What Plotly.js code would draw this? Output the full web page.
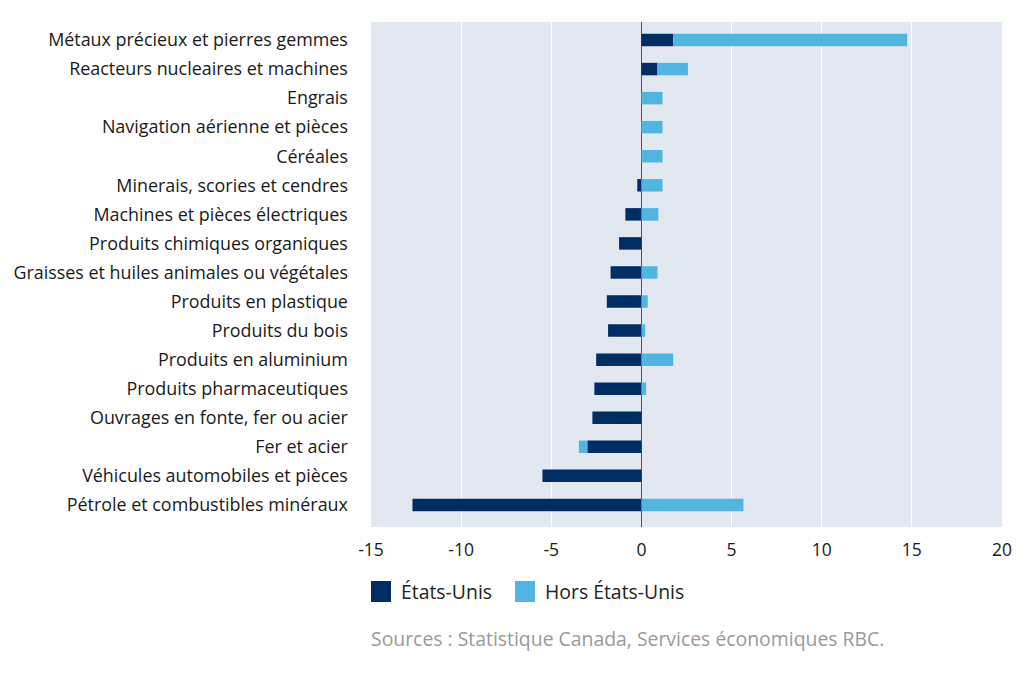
<!DOCTYPE html>
<html>
<head>
<meta charset="utf-8">
<script src="https://cdn.plot.ly/plotly-3.0.1.min.js"></script>
<style>html,body{margin:0;padding:0;background:#fff;}#chart{width:1024px;height:700px;}</style>
</head>
<body>
<div id="chart"></div>
<script>
const categories = [
  "Métaux précieux et pierres gemmes",
  "Reacteurs nucleaires et machines",
  "Engrais",
  "Navigation aérienne et pièces",
  "Céréales",
  "Minerais, scories et cendres",
  "Machines et pièces électriques",
  "Produits chimiques organiques",
  "Graisses et huiles animales ou végétales",
  "Produits en plastique",
  "Produits du bois",
  "Produits en aluminium",
  "Produits pharmaceutiques",
  "Ouvrages en fonte, fer ou acier",
  "Fer et acier",
  "Véhicules automobiles et pièces",
  "Pétrole et combustibles minéraux"
];
const seriesNames = ["États-Unis", "Hors États-Unis"];
const usValues =    [1.76, 0.89, 0, 0, 0, -0.23, -0.89, -1.24, -1.71, -1.92, -1.85, -2.51, -2.61, -2.72, -3.0, -5.49, -12.7];
const nonUsValues = [12.98, 1.69, 1.17, 1.17, 1.17, 1.17, 0.94, 0, 0.89, 0.35, 0.21, 1.76, 0.26, 0, -0.47, 0, 5.66];
const xTicks = [-15, -10, -5, 0, 5, 10, 15, 20];
const sourceText = "Sources : Statistique Canada, Services économiques RBC.";

const colors = ["#002D62", "#52B5E0"];
const font = "'Open Sans', 'Noto Sans', sans-serif";

const traces = [usValues, nonUsValues].map((vals, i) => ({
  type: "bar",
  orientation: "h",
  name: seriesNames[i],
  y: categories,
  x: vals,
  marker: {color: colors[i]},
  hoverinfo: "x+name",
  showlegend: false
}));

const plotH = 505;
const pxY = p => -p / plotH;
const plotW = 631;
const pxX = p => p / plotW;

const shapes = [];
const annotations = [];
const legendX = [0, 144];
seriesNames.forEach((n, i) => {
  shapes.push({type: "rect", xref: "paper", yref: "paper",
    x0: pxX(legendX[i]), x1: pxX(legendX[i] + 20),
    y0: pxY(54), y1: pxY(75),
    fillcolor: colors[i], line: {width: 0}});
  annotations.push({xref: "paper", yref: "paper",
    x: pxX(legendX[i] + 28), y: pxY(64.5), xanchor: "left", yanchor: "middle",
    text: n, showarrow: false, font: {family: font, size: 19.4, color: "#222"}});
});
annotations.push({xref: "paper", yref: "paper", x: -0.003, y: pxY(111),
  xanchor: "left", yanchor: "middle", text: sourceText, showarrow: false,
  font: {family: font, size: 19.4, color: "#9a9a9a"}});

const layout = {
  width: 1024, height: 700,
  margin: {l: 371, r: 22, t: 22, b: 173, pad: 0},
  paper_bgcolor: "#ffffff",
  plot_bgcolor: "#E3E8F0",
  barmode: "relative",
  bargap: 0.57,
  font: {family: font, color: "#1a1a1a"},
  xaxis: {
    range: [-15, 20], tickvals: xTicks, ticktext: xTicks.map(String),
    showgrid: true, gridcolor: "#ffffff", gridwidth: 1,
    zeroline: true, zerolinecolor: "#555555", zerolinewidth: 1.2,
    tickfont: {family: font, size: 17.5, color: "#1a1a1a"},
    ticks: "outside", ticklen: 7, tickcolor: "rgba(0,0,0,0)",
    showline: false, fixedrange: true
  },
  yaxis: {
    range: [16.76, -0.62], type: "category",
    tickfont: {family: font, size: 17.9, color: "#1a1a1a"},
    ticks: "outside", ticklen: 18.5, tickcolor: "rgba(0,0,0,0)",
    showgrid: false, showline: false, fixedrange: true
  },
  shapes: shapes,
  annotations: annotations
};

Plotly.newPlot("chart", traces, layout, {displayModeBar: false, staticPlot: true});
</script>
</body>
</html>
